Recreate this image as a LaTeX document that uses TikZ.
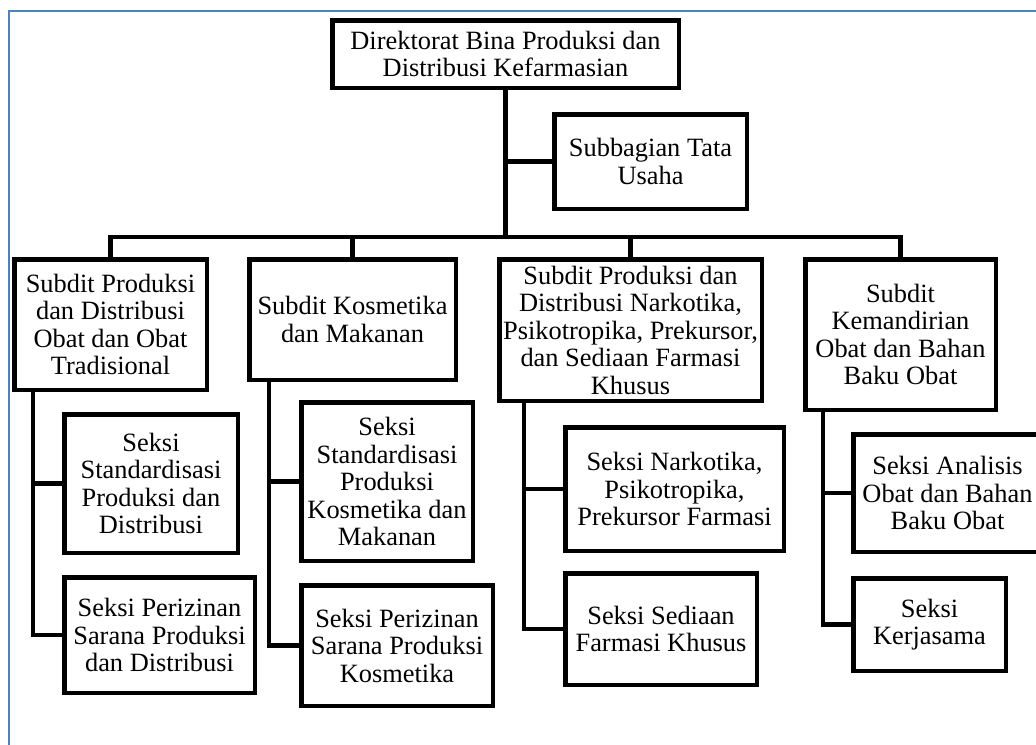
\documentclass[tikz,border=0pt]{standalone}
\usepackage{fontspec}
\setmainfont{Liberation Serif}
\usepackage{tikz}
\usetikzlibrary{positioning}
\definecolor{pageblue}{HTML}{4F81BD}
\tikzset{
  unit/.style={draw, line width=2.25pt, align=center, inner sep=0pt,
    font=\fontsize{13.2}{13.75}\selectfont},
  link/.style={line width=2.2pt, line cap=rect},
  frame/.style={pageblue, line width=1pt}
}

\begin{document}
\begin{tikzpicture}[x=0.5pt,y=-0.5pt]
		\useasboundingbox (0,0) rectangle (1036,744);
		\draw[frame] (1045,11) -- (9,11) -- (9,750);
		% direktorat dan tata usaha
		\node[unit, minimum width=173.25pt, minimum height=33.75pt] (dir) at (505.5,54)
		  {Direktorat Bina Produksi dan\\Distribusi Kefarmasian};
		\node[unit, minimum width=96.25pt, minimum height=47.25pt] (tu) at (650.5,161.5)
		  {Subbagian Tata\\Usaha};
		% subdit
		\node[unit, minimum width=96.25pt, minimum height=65.25pt] (s1) at (110.5,324.5)
		  {Subdit Produksi\\dan Distribusi\\Obat dan Obat\\Tradisional};
		\node[unit, minimum width=103.25pt, minimum height=60.25pt] (s2) at (352.5,319.5)
		  {Subdit Kosmetika\\dan Makanan};
		\node[unit, minimum width=131.25pt, minimum height=70.75pt] (s3) at (630.5,330)
		  {Subdit Produksi dan\\Distribusi Narkotika,\\Psikotropika, Prekursor,\\dan Sediaan Farmasi\\Khusus};
		\node[unit, minimum width=95.25pt, minimum height=75.25pt] (s4) at (900.5,334.5)
		  {Subdit\\Kemandirian\\Obat dan Bahan\\Baku Obat};
		% seksi
		\node[unit, minimum width=86.75pt, minimum height=69.25pt] (k11) at (151,483.5)
		  {Seksi\\Standardisasi\\Produksi dan\\Distribusi};
		\node[unit, minimum width=95.25pt, minimum height=57.75pt] (k12) at (159.5,635)
		  {Seksi Perizinan\\Sarana Produksi\\dan Distribusi};
		\node[unit, minimum width=85.75pt, minimum height=79.25pt] (k21) at (387,481.5)
		  {Seksi\\Standardisasi\\Produksi\\Kosmetika dan\\Makanan};
		\node[unit, minimum width=95.75pt, minimum height=60.25pt] (k22) at (397,645.5)
		  {Seksi Perizinan\\Sarana Produksi\\Kosmetika};
		\node[unit, minimum width=109.25pt, minimum height=61.75pt] (k31) at (674.5,489)
		  {Seksi Narkotika,\\Psikotropika,\\Prekursor Farmasi};
		\node[unit, minimum width=95.75pt, minimum height=55.75pt] (k32) at (661,629)
		  {Seksi Sediaan\\Farmasi Khusus};
		\node[unit, minimum width=94.25pt, minimum height=58.75pt] (k41) at (947.5,493)
		  {Seksi Analisis\\Obat dan Bahan\\Baku Obat};
		\node[unit, minimum width=76.25pt, minimum height=46.25pt] (k42) at (929.5,624.5)
		  {Seksi\\Kerjasama};
		% garis
		\coordinate (bar) at (0,237);
		\coordinate (t1) at (33,0);
		\coordinate (t2) at (269,0);
		\coordinate (t3) at (524,0);
		\coordinate (t4) at (823,0);
		\begin{scope}[link]
		  \draw (dir.south) -- (dir.south |- bar);
		  \draw (dir.south |- tu.west) -- (tu.west);
		  \draw (s1.north) |- (dir.south |- bar) -| (s4.north);
		  \draw (s2.north) -- (s2.north |- bar);
		  \draw (s3.north) -- (s3.north |- bar);
		  \draw (t1 |- s1.south) |- (k12.west);
		  \draw (t1 |- k11.west) -- (k11.west);
		  \draw (t2 |- s2.south) |- (k22.west);
		  \draw (t2 |- k21.west) -- (k21.west);
		  \draw (t3 |- s3.south) |- (k32.west);
		  \draw (t3 |- k31.west) -- (k31.west);
		  \draw (t4 |- s4.south) |- (k42.west);
		  \draw (t4 |- k41.west) -- (k41.west);
		\end{scope}
\end{tikzpicture}
\end{document}
